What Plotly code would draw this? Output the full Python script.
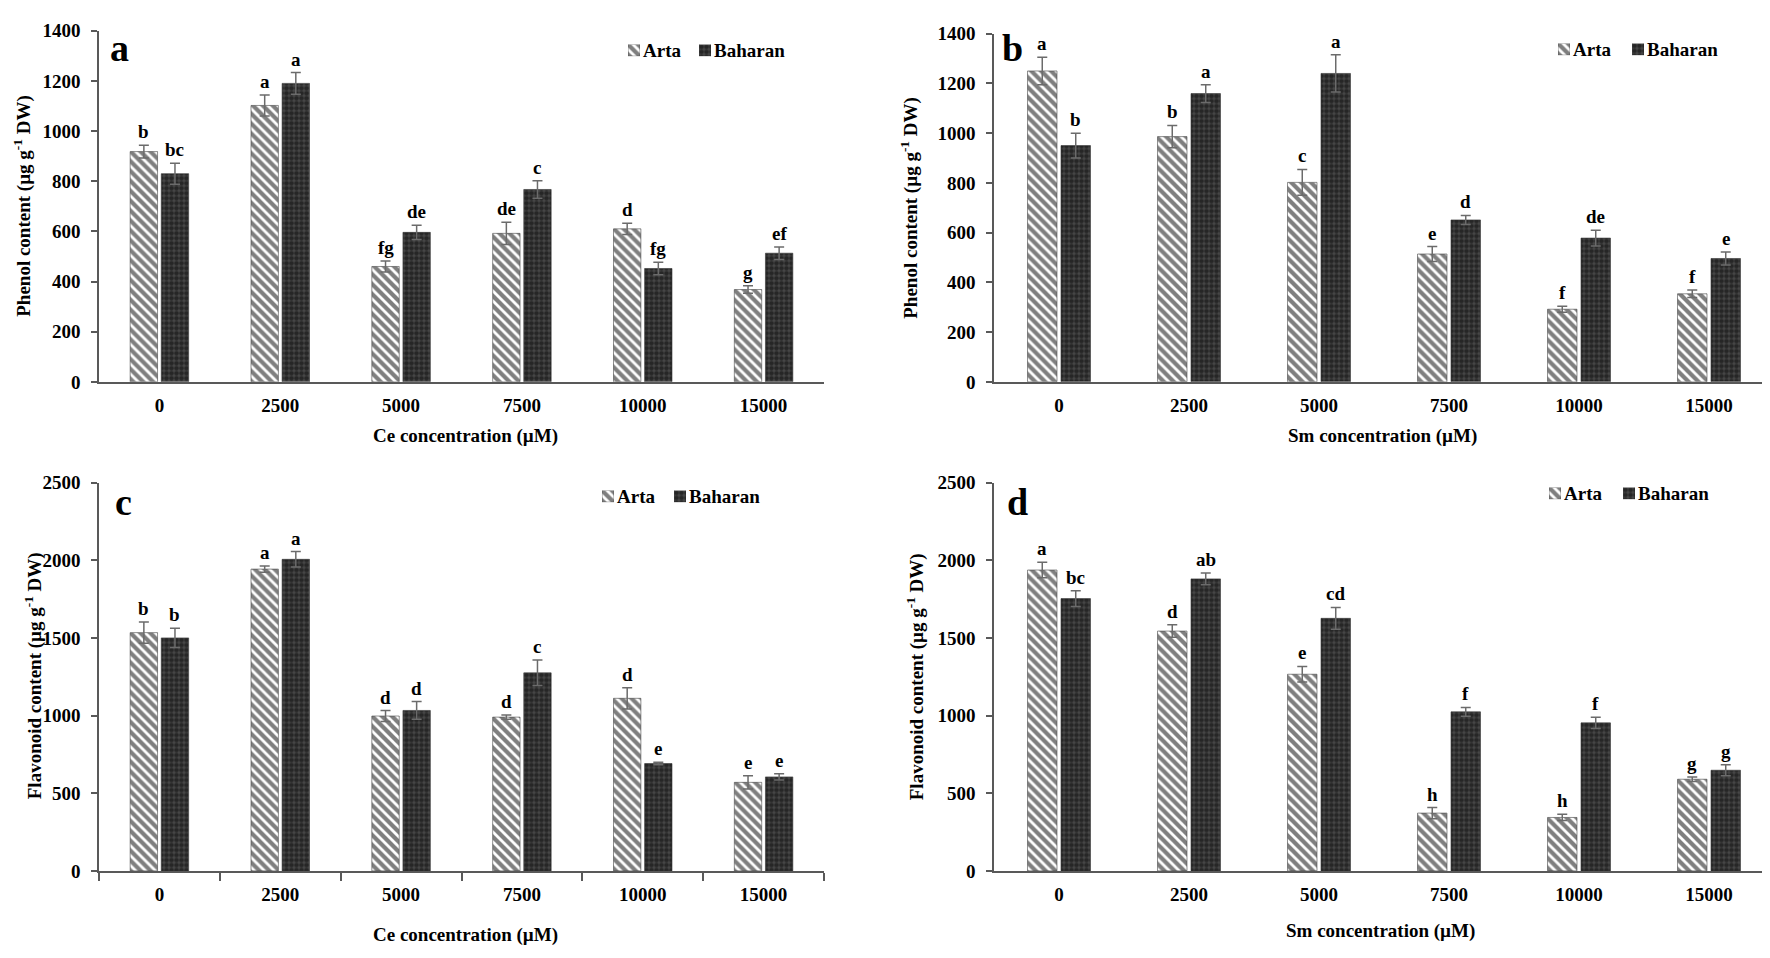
import plotly.graph_objects as go

W, H = 1770, 958

categories = ["0", "2500", "5000", "7500", "10000", "15000"]
series_names = ["Arta", "Baharan"]

# Panel a: Phenol, Ce
a_arta = [918, 1102, 460, 592, 610, 368]
a_arta_err = [25, 42, 22, 44, 22, 15]
a_bah = [830, 1190, 596, 767, 452, 513]
a_bah_err = [42, 43, 28, 35, 25, 25]
a_arta_lab = ["b", "a", "fg", "de", "d", "g"]
a_bah_lab = ["bc", "a", "de", "c", "fg", "ef"]

# Panel b: Phenol, Sm
b_arta = [1250, 986, 802, 514, 292, 354]
b_arta_err = [55, 45, 52, 30, 12, 15]
b_bah = [950, 1159, 1240, 651, 578, 496]
b_bah_err = [50, 36, 75, 18, 32, 26]
b_arta_lab = ["a", "b", "c", "e", "f", "f"]
b_bah_lab = ["b", "a", "a", "d", "de", "e"]

# Panel c: Flavonoid, Ce
c_arta = [1534, 1943, 997, 990, 1111, 570]
c_arta_err = [68, 20, 35, 14, 68, 42]
c_bah = [1500, 2006, 1033, 1275, 691, 605]
c_bah_err = [62, 50, 57, 82, 8, 20]
c_arta_lab = ["b", "a", "d", "d", "d", "e"]
c_bah_lab = ["b", "a", "d", "c", "e", "e"]

# Panel d: Flavonoid, Sm
d_arta = [1937, 1544, 1266, 372, 344, 590]
d_arta_err = [50, 40, 50, 36, 20, 15]
d_bah = [1753, 1880, 1626, 1024, 953, 648]
d_bah_err = [50, 38, 70, 28, 36, 35]
d_arta_lab = ["a", "d", "e", "h", "h", "g"]
d_bah_lab = ["bc", "ab", "cd", "f", "f", "g"]

FONT = "Liberation Serif, Times New Roman, serif"
AXC = "#595959"


def px(v):
    return min(max(v / W, 0.0), 1.0)


def py(v):
    return min(max((H - v) / H, 0.0), 1.0)


arta_marker = dict(color="white",
                   pattern=dict(shape="\\", fgcolor="black", bgcolor="white", size=7, solidity=0.6),
                   line=dict(width=0.6, color="#444"))
bah_marker = dict(color="#474747",
                  pattern=dict(shape=".", fgcolor="#050505", bgcolor="#474747", size=5, solidity=0.65),
                  line=dict(width=0.6, color="#333"))

panels = [
    dict(ax="", arta=a_arta, ae=a_arta_err, bah=a_bah, be=a_bah_err, al=a_arta_lab, bl=a_bah_lab),
    dict(ax="2", arta=b_arta, ae=b_arta_err, bah=b_bah, be=b_bah_err, al=b_arta_lab, bl=b_bah_lab),
    dict(ax="3", arta=c_arta, ae=c_arta_err, bah=c_bah, be=c_bah_err, al=c_arta_lab, bl=c_bah_lab),
    dict(ax="4", arta=d_arta, ae=d_arta_err, bah=d_bah, be=d_bah_err, al=d_arta_lab, bl=d_bah_lab),
]

xpos = list(range(len(categories)))
OFFS = 0.1285

fig = go.Figure()
annotations = []
letter_font_small = dict(family=FONT, size=19, color="black", weight="bold")
for p in panels:
    xa = "x" + p["ax"]
    ya = "y" + p["ax"]
    fig.add_trace(go.Bar(
        x=xpos, y=p["arta"], name=series_names[0], xaxis=xa, yaxis=ya, showlegend=False,
        marker=arta_marker,
        error_y=dict(type="data", array=p["ae"], color="#6b6b6b", thickness=1.5, width=5),
    ))
    fig.add_trace(go.Bar(
        x=xpos, y=p["bah"], name=series_names[1], xaxis=xa, yaxis=ya, showlegend=False,
        marker=bah_marker,
        error_y=dict(type="data", array=p["be"], color="#6b6b6b", thickness=1.5, width=5),
    ))
    for i in xpos:
        annotations.append(dict(x=i - OFFS, y=p["arta"][i] + p["ae"][i], xref=xa, yref=ya,
                                text=p["al"][i], showarrow=False, yanchor="bottom", yshift=1,
                                font=letter_font_small))
        annotations.append(dict(x=i + OFFS, y=p["bah"][i] + p["be"][i], xref=xa, yref=ya,
                                text=p["bl"][i], showarrow=False, yanchor="bottom", yshift=1,
                                font=letter_font_small))

tickfont = dict(family=FONT, size=19, color="black", weight="bold")


def xaxis(dom, anchor, minor_ticks=False):
    d = dict(domain=dom, anchor=anchor, range=[-0.5, 5.5], tickmode="array",
             tickvals=xpos, ticktext=categories, ticks="", showline=True, linecolor=AXC,
             linewidth=1.5, showgrid=False, zeroline=False, tickfont=tickfont,
             ticklabelstandoff=6, fixedrange=True)
    if minor_ticks:
        d["minor"] = dict(tickmode="linear", tick0=-0.5, dtick=1, ticks="outside",
                          ticklen=8, tickcolor=AXC, tickwidth=1.5)
    return d


def yaxis(dom, anchor, top, dt):
    return dict(domain=dom, anchor=anchor, range=[0, top], dtick=dt, tick0=0,
                ticks="outside", ticklen=6, tickcolor=AXC, tickwidth=1.5,
                showline=True, linecolor=AXC, linewidth=1.5, showgrid=False,
                zeroline=False, tickfont=tickfont, ticklabelstandoff=7, fixedrange=True)


xa_dom = [px(91), px(816)]
xb_dom = [px(986), px(1766)]
ya_dom = [py(372), py(13)]
yb_dom = [py(372), py(16)]
yc_dom = [py(872), py(475)]

layout_axes = dict(
    xaxis=xaxis(xa_dom, "y"), yaxis=yaxis(ya_dom, "x", 1400, 200),
    xaxis2=xaxis(xb_dom, "y2"), yaxis2=yaxis(yb_dom, "x2", 1400, 200),
    xaxis3=xaxis(xa_dom, "y3", minor_ticks=True), yaxis3=yaxis(yc_dom, "x3", 2500, 500),
    xaxis4=xaxis(xb_dom, "y4"), yaxis4=yaxis(yc_dom, "x4", 2500, 500),
)

# Legend: pattern swatches drawn as single bars on tiny axes, labels as text
legend_font = dict(family=FONT, size=19, color="black", weight="bold")
legend_spots = [
    # (arta swatch left, baharan swatch left, y center)
    (620, 691, 33),
    (1550, 1624, 32),
    (594, 666, 489),
    (1541, 1615, 486),
]
n_ax = 5
for (xa0, xb0, yc) in legend_spots:
    for name, x0, mk in ((series_names[0], xa0, arta_marker), (series_names[1], xb0, bah_marker)):
        k = str(n_ax)
        fig.add_trace(go.Bar(x=[0], y=[1], width=1, xaxis="x" + k, yaxis="y" + k,
                             marker=mk, showlegend=False, hoverinfo="skip"))
        layout_axes["xaxis" + k] = dict(domain=[px(x0), px(x0 + 12)], anchor="y" + k,
                                        range=[-0.5, 0.5], visible=False, fixedrange=True)
        layout_axes["yaxis" + k] = dict(domain=[py(yc + 6), py(yc - 6)], anchor="x" + k,
                                        range=[0, 1], visible=False, fixedrange=True)
        annotations.append(dict(text=name, x=px(x0 + 14), y=py(yc), xref="paper", yref="paper",
                                showarrow=False, xanchor="left", yanchor="middle",
                                borderpad=0, font=legend_font))
        n_ax += 1

title_font = dict(family=FONT, size=19, color="black", weight="bold")
letter_font = dict(family=FONT, size=38, color="black", weight="bold")

xtitles = [
    dict(text="Ce concentration (µM)", x=457, y=427),
    dict(text="Sm concentration (µM)", x=1374, y=427),
    dict(text="Ce concentration (µM)", x=457, y=938),
    dict(text="Sm concentration (µM)", x=1372, y=933),
]
for e in xtitles:
    annotations.append(dict(text=e["text"], x=px(e["x"]), y=py(e["y"]), xref="paper", yref="paper",
                            showarrow=False, xanchor="center", yanchor="middle", font=title_font))

ytitles = [
    dict(text="Phenol content (µg g<sup>-1</sup> DW)", x=15, y=192),
    dict(text="Phenol content (µg g<sup>-1</sup> DW)", x=902, y=194),
    dict(text="Flavonoid content (µg g<sup>-1</sup> DW)", x=25, y=673),
    dict(text="Flavonoid content (µg g<sup>-1</sup> DW)", x=907, y=673),
]
for e in ytitles:
    annotations.append(dict(text=e["text"], x=px(e["x"]), y=py(e["y"]), xref="paper", yref="paper",
                            showarrow=False, xanchor="center", yanchor="middle", textangle=-90,
                            font=title_font))

letters = [("a", 111, 31), ("b", 1004, 31), ("c", 115, 495), ("d", 1010, 495)]
for t, x, y in letters:
    annotations.append(dict(text=t, x=px(x), y=py(y), xref="paper", yref="paper",
                            showarrow=False, xanchor="center", yanchor="middle", font=letter_font))

fig.update_layout(
    width=W, height=H, autosize=False,
    margin=dict(l=0, r=0, t=0, b=0),
    paper_bgcolor="white", plot_bgcolor="white",
    barmode="group", bargap=0.485, bargroupgap=0.12,
    showlegend=False,
    annotations=annotations,
    **layout_axes,
)

fig.write_html("out.html")
